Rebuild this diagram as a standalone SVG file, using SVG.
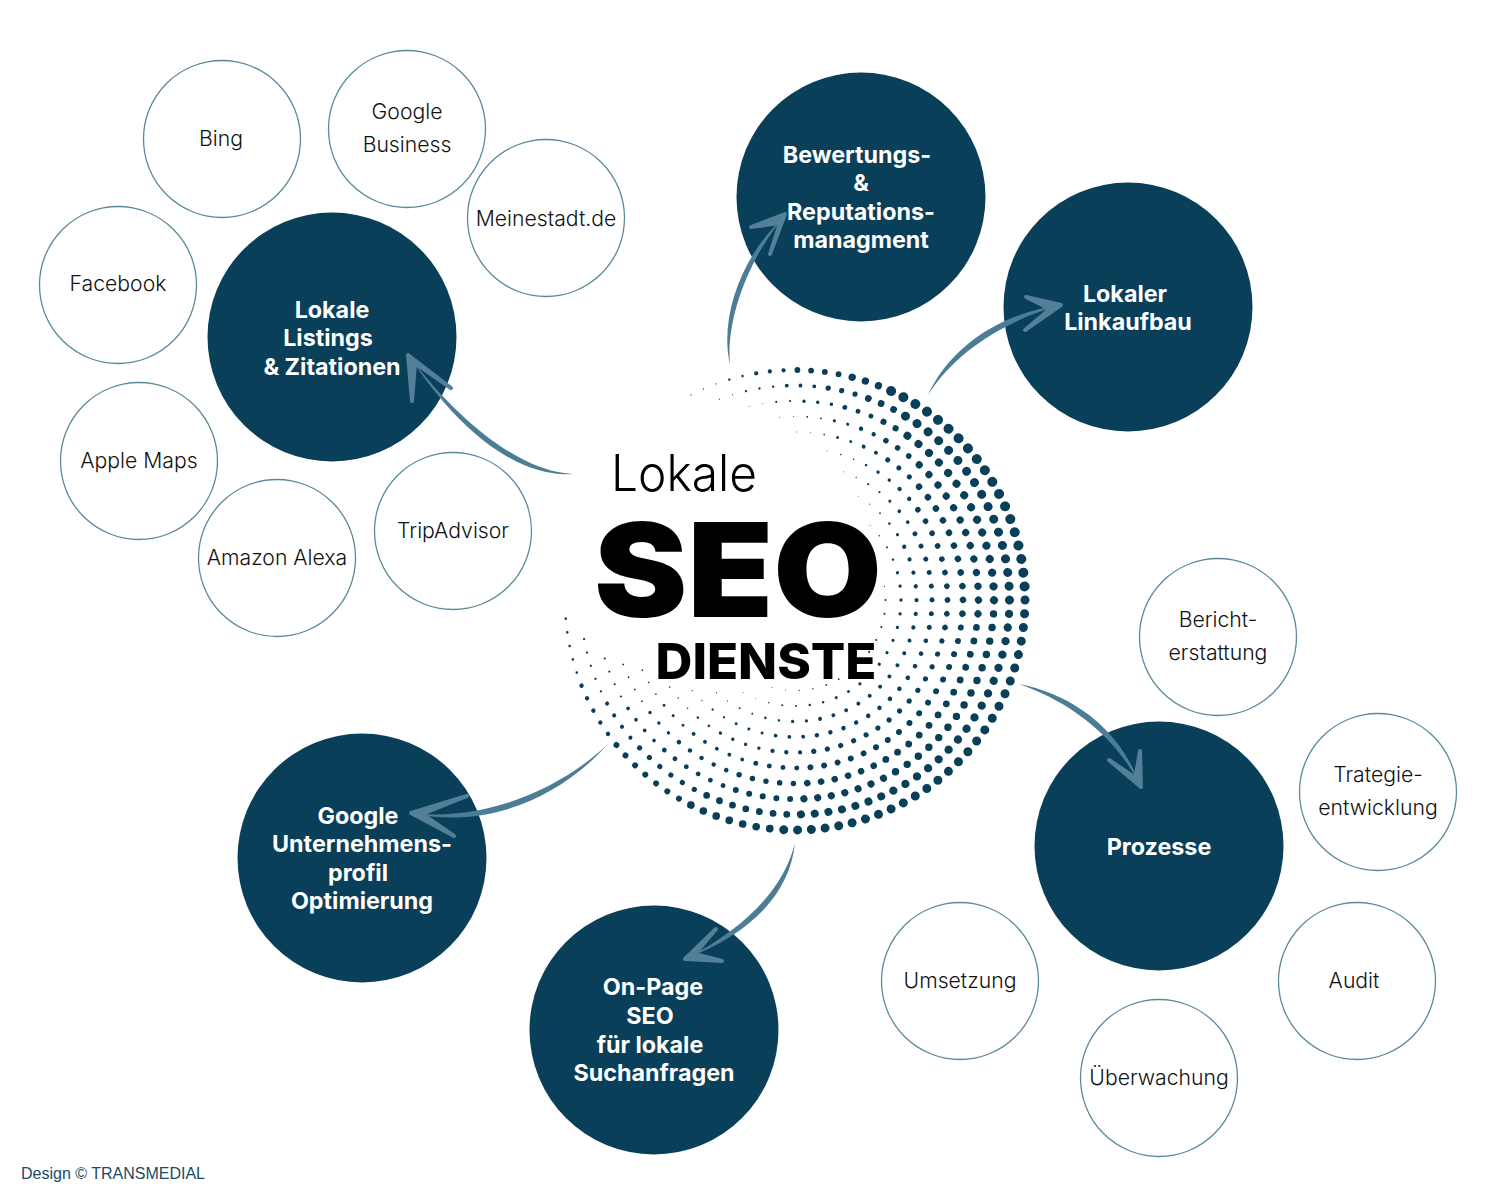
<svg xmlns="http://www.w3.org/2000/svg" width="1500" height="1200" viewBox="0 0 1500 1200">
<style>
text{text-anchor:middle}
.dark circle{fill:#0a3f5a}
.dark text{font:700 23.3px Inter,"Liberation Sans",sans-serif;fill:#fff}
.lite circle{fill:#fff;stroke:#5b8a9c;stroke-width:1.3}
.lite text{font:300 21.2px Inter,"Liberation Sans",sans-serif;fill:#111}
#dots circle{fill:none;stroke:#0a3f5a;stroke-linecap:round}
.n1{stroke-dasharray:0 2000}
.n2{stroke-dasharray:0 13.8 0 2000}
.n3{stroke-dasharray:0 13.8 0 13.8 0 2000}
.n4{stroke-dasharray:0 13.8 0 13.8 0 13.8 0 2000}
.n5{stroke-dasharray:0 13.8 0 13.8 0 13.8 0 13.8 0 2000}
.n6{stroke-dasharray:0 13.8 0 13.8 0 13.8 0 13.8 0 13.8 0 2000}
.n7{stroke-dasharray:0 13.8 0 13.8 0 13.8 0 13.8 0 13.8 0 13.8 0 2000}
.n8{stroke-dasharray:0 13.8 0 13.8 0 13.8 0 13.8 0 13.8 0 13.8 0 13.8 0 2000}
.n9{stroke-dasharray:0 13.8 0 13.8 0 13.8 0 13.8 0 13.8 0 13.8 0 13.8 0 13.8 0 2000}
.n10{stroke-dasharray:0 13.8 0 13.8 0 13.8 0 13.8 0 13.8 0 13.8 0 13.8 0 13.8 0 13.8 0 2000}
.n11{stroke-dasharray:0 13.8 0 13.8 0 13.8 0 13.8 0 13.8 0 13.8 0 13.8 0 13.8 0 13.8 0 13.8 0 2000}
.n12{stroke-dasharray:0 13.8 0 13.8 0 13.8 0 13.8 0 13.8 0 13.8 0 13.8 0 13.8 0 13.8 0 13.8 0 13.8 0 2000}
.n13{stroke-dasharray:0 13.8 0 13.8 0 13.8 0 13.8 0 13.8 0 13.8 0 13.8 0 13.8 0 13.8 0 13.8 0 13.8 0 13.8 0 2000}
.n15{stroke-dasharray:0 13.8 0 13.8 0 13.8 0 13.8 0 13.8 0 13.8 0 13.8 0 13.8 0 13.8 0 13.8 0 13.8 0 13.8 0 13.8 0 13.8 0 2000}
.n17{stroke-dasharray:0 13.8 0 13.8 0 13.8 0 13.8 0 13.8 0 13.8 0 13.8 0 13.8 0 13.8 0 13.8 0 13.8 0 13.8 0 13.8 0 13.8 0 13.8 0 13.8 0 2000}
.n19{stroke-dasharray:0 13.8 0 13.8 0 13.8 0 13.8 0 13.8 0 13.8 0 13.8 0 13.8 0 13.8 0 13.8 0 13.8 0 13.8 0 13.8 0 13.8 0 13.8 0 13.8 0 13.8 0 13.8 0 2000}
#connectors path.b{fill:#4b7d97;stroke:none}
#connectors path.h{fill:#537f99;stroke:#537f99;stroke-width:4;stroke-linejoin:round}
.title{fill:#000;font-family:Inter,"Liberation Sans",sans-serif}
</style>
<g id="dots" transform="translate(795 600)">
<circle r="230" class="n3" stroke-width="1.3" transform="rotate(-116.9)"/>
<circle r="230" class="n2" stroke-width="2.5" transform="rotate(-106.6)"/>
<circle r="230" class="n3" stroke-width="4.2" transform="rotate(-99.7)"/>
<circle r="230" class="n4" stroke-width="5.8" transform="rotate(-89.4)"/>
<circle r="230" class="n3" stroke-width="7.4" transform="rotate(-75.6)"/>
<circle r="230" class="n19" stroke-width="10" transform="rotate(-65.3)"/>
<circle r="230" class="n19" stroke-width="9"/>
<circle r="230" class="n9" stroke-width="9" transform="rotate(65.3)"/>
<circle r="230" class="n7" stroke-width="7.6" transform="rotate(96.3)"/>
<circle r="230" class="n7" stroke-width="6" transform="rotate(120.3)"/>
<circle r="230" class="n5" stroke-width="4.4" transform="rotate(144.4)"/>
<circle r="230" class="n5" stroke-width="2.6" transform="rotate(161.6)"/>
<circle r="214.5" class="n2" stroke-width="1.2" transform="rotate(-110.6)"/>
<circle r="214.5" class="n3" stroke-width="2.3" transform="rotate(-103.2)"/>
<circle r="214.5" class="n3" stroke-width="3.9" transform="rotate(-92.2)"/>
<circle r="214.5" class="n3" stroke-width="5.3" transform="rotate(-81.1)"/>
<circle r="214.5" class="n3" stroke-width="6.8" transform="rotate(-70)"/>
<circle r="214.5" class="n17" stroke-width="9" transform="rotate(-59)"/>
<circle r="214.5" class="n17" stroke-width="8.3" transform="rotate(3.7)"/>
<circle r="214.5" class="n7" stroke-width="8" transform="rotate(66.3)"/>
<circle r="214.5" class="n7" stroke-width="6.8" transform="rotate(92.2)"/>
<circle r="214.5" class="n6" stroke-width="5.2" transform="rotate(118)"/>
<circle r="214.5" class="n4" stroke-width="4.1" transform="rotate(140.1)"/>
<circle r="214.5" class="n5" stroke-width="2.3" transform="rotate(154.8)"/>
<circle r="199" class="n2" stroke-width="1" transform="rotate(-103.3)"/>
<circle r="199" class="n2" stroke-width="2.1" transform="rotate(-95.4)"/>
<circle r="199" class="n3" stroke-width="3.5" transform="rotate(-87.4)"/>
<circle r="199" class="n3" stroke-width="4.8" transform="rotate(-75.5)"/>
<circle r="199" class="n2" stroke-width="6.2" transform="rotate(-63.6)"/>
<circle r="199" class="n15" stroke-width="8" transform="rotate(-55.6)"/>
<circle r="199" class="n15" stroke-width="7.4" transform="rotate(4)"/>
<circle r="199" class="n7" stroke-width="7.2" transform="rotate(63.6)"/>
<circle r="199" class="n5" stroke-width="6" transform="rotate(91.4)"/>
<circle r="199" class="n6" stroke-width="4.7" transform="rotate(111.2)"/>
<circle r="199" class="n4" stroke-width="3.7" transform="rotate(135.1)"/>
<circle r="199" class="n4" stroke-width="2.1" transform="rotate(151)"/>
<circle r="183.5" class="n2" stroke-width="1" transform="rotate(-94.8)"/>
<circle r="183.5" class="n2" stroke-width="1.9" transform="rotate(-86.2)"/>
<circle r="183.5" class="n2" stroke-width="3.2" transform="rotate(-77.6)"/>
<circle r="183.5" class="n2" stroke-width="4.4" transform="rotate(-68.9)"/>
<circle r="183.5" class="n3" stroke-width="5.6" transform="rotate(-60.3)"/>
<circle r="183.5" class="n13" stroke-width="7.2" transform="rotate(-47.4)"/>
<circle r="183.5" class="n13" stroke-width="6.8" transform="rotate(8.6)"/>
<circle r="183.5" class="n6" stroke-width="6.6" transform="rotate(64.6)"/>
<circle r="183.5" class="n5" stroke-width="5.5" transform="rotate(90.5)"/>
<circle r="183.5" class="n5" stroke-width="4.4" transform="rotate(112)"/>
<circle r="183.5" class="n3" stroke-width="3.4" transform="rotate(133.6)"/>
<circle r="183.5" class="n4" stroke-width="1.9" transform="rotate(146.5)"/>
<circle r="168" class="n2" stroke-width="0.9" transform="rotate(-89.4)"/>
<circle r="168" class="n1" stroke-width="1.7" transform="rotate(-80)"/>
<circle r="168" class="n2" stroke-width="2.9" transform="rotate(-75.3)"/>
<circle r="168" class="n2" stroke-width="3.9" transform="rotate(-65.9)"/>
<circle r="168" class="n3" stroke-width="5" transform="rotate(-56.5)"/>
<circle r="168" class="n11" stroke-width="6.5" transform="rotate(-42.4)"/>
<circle r="168" class="n12" stroke-width="6" transform="rotate(9.4)"/>
<circle r="168" class="n5" stroke-width="5.9" transform="rotate(65.9)"/>
<circle r="168" class="n4" stroke-width="5" transform="rotate(89.4)"/>
<circle r="168" class="n5" stroke-width="3.9" transform="rotate(108.3)"/>
<circle r="168" class="n3" stroke-width="3" transform="rotate(131.8)"/>
<circle r="168" class="n3" stroke-width="1.7" transform="rotate(145.9)"/>
<circle r="152.5" class="n1" stroke-width="0.8" transform="rotate(-77.8)"/>
<circle r="152.5" class="n2" stroke-width="1.5" transform="rotate(-72.6)"/>
<circle r="152.5" class="n1" stroke-width="2.5" transform="rotate(-62.2)"/>
<circle r="152.5" class="n2" stroke-width="3.4" transform="rotate(-57)"/>
<circle r="152.5" class="n2" stroke-width="4.4" transform="rotate(-46.7)"/>
<circle r="152.5" class="n10" stroke-width="5.6" transform="rotate(-36.3)"/>
<circle r="152.5" class="n9" stroke-width="5.2" transform="rotate(15.6)"/>
<circle r="152.5" class="n5" stroke-width="5.2" transform="rotate(62.2)"/>
<circle r="152.5" class="n3" stroke-width="4.3" transform="rotate(88.1)"/>
<circle r="152.5" class="n4" stroke-width="3.4" transform="rotate(103.7)"/>
<circle r="152.5" class="n2" stroke-width="2.6" transform="rotate(124.4)"/>
<circle r="152.5" class="n3" stroke-width="1.5" transform="rotate(134.8)"/>
<circle r="137" class="n1" stroke-width="0.7" transform="rotate(-69.3)"/>
<circle r="137" class="n1" stroke-width="1.3" transform="rotate(-63.5)"/>
<circle r="137" class="n2" stroke-width="2.2" transform="rotate(-57.7)"/>
<circle r="137" class="n1" stroke-width="3" transform="rotate(-46.2)"/>
<circle r="137" class="n2" stroke-width="3.7" transform="rotate(-40.4)"/>
<circle r="137" class="n8" stroke-width="4.9" transform="rotate(-28.9)"/>
<circle r="137" class="n8" stroke-width="4.6" transform="rotate(17.3)"/>
<circle r="137" class="n4" stroke-width="4.5" transform="rotate(63.5)"/>
<circle r="137" class="n3" stroke-width="3.8" transform="rotate(86.6)"/>
<circle r="137" class="n3" stroke-width="3" transform="rotate(103.9)"/>
<circle r="137" class="n2" stroke-width="2.3" transform="rotate(121.2)"/>
<circle r="137" class="n2" stroke-width="1.3" transform="rotate(132.8)"/>
<circle r="121.5" class="n1" stroke-width="0.7" transform="rotate(-58.6)"/>
<circle r="121.5" class="n1" stroke-width="1.2" transform="rotate(-52.1)"/>
<circle r="121.5" class="n1" stroke-width="1.9" transform="rotate(-45.6)"/>
<circle r="121.5" class="n1" stroke-width="2.6" transform="rotate(-39)"/>
<circle r="121.5" class="n1" stroke-width="3.2" transform="rotate(-32.5)"/>
<circle r="121.5" class="n7" stroke-width="4.2" transform="rotate(-26)"/>
<circle r="121.5" class="n7" stroke-width="4" transform="rotate(19.5)"/>
<circle r="121.5" class="n3" stroke-width="3.9" transform="rotate(65.1)"/>
<circle r="121.5" class="n2" stroke-width="3.3" transform="rotate(84.6)"/>
<circle r="121.5" class="n2" stroke-width="2.6" transform="rotate(97.6)"/>
<circle r="121.5" class="n2" stroke-width="2" transform="rotate(110.6)"/>
<circle r="121.5" class="n2" stroke-width="1.2" transform="rotate(123.7)"/>
<circle r="106" class="n1" stroke-width="0.9" transform="rotate(-44.8)"/>
<circle r="106" class="n1" stroke-width="1.5" transform="rotate(-37.3)"/>
<circle r="106" class="n1" stroke-width="2" transform="rotate(-29.8)"/>
<circle r="106" class="n1" stroke-width="2.5" transform="rotate(-22.4)"/>
<circle r="106" class="n5" stroke-width="3.3" transform="rotate(-14.9)"/>
<circle r="106" class="n5" stroke-width="3.2" transform="rotate(22.4)"/>
<circle r="106" class="n2" stroke-width="3" transform="rotate(59.7)"/>
<circle r="106" class="n2" stroke-width="2.5" transform="rotate(74.6)"/>
<circle r="106" class="n2" stroke-width="2" transform="rotate(89.5)"/>
<circle r="106" class="n1" stroke-width="1.5" transform="rotate(104.4)"/>
<circle r="106" class="n2" stroke-width="0.9" transform="rotate(111.9)"/>
<circle r="90.5" class="n1" stroke-width="1.2" transform="rotate(-8.7)"/>
<circle r="90.5" class="n6" stroke-width="2.1"/>
<circle r="90.5" class="n3" stroke-width="1.8" transform="rotate(52.4)"/>
<circle r="90.5" class="n2" stroke-width="1.4" transform="rotate(78.6)"/>
<circle r="90.5" class="n2" stroke-width="0.9" transform="rotate(96.1)"/>
</g>
<g id="title">
<text class="title" x="684" y="491" font-size="50" font-weight="300" textLength="146" lengthAdjust="spacingAndGlyphs">Lokale</text>
<text class="title" x="738" y="617" font-size="130" font-weight="900" textLength="288" lengthAdjust="spacingAndGlyphs">SEO</text>
<text class="title" x="766" y="679" font-size="50" font-weight="800" textLength="221" lengthAdjust="spacingAndGlyphs">DIENSTE</text>
</g>
<g id="n-bing" class="lite"><circle cx="222" cy="139" r="78.5"/><text x="221" y="146">Bing</text></g>
<g id="n-google-business" class="lite"><circle cx="407" cy="129" r="78.5"/><text x="407" y="119">Google</text><text x="407" y="152">Business</text></g>
<g id="n-meinestadt" class="lite"><circle cx="546" cy="218" r="78.5"/><text x="546" y="226">Meinestadt.de</text></g>
<g id="n-facebook" class="lite"><circle cx="118" cy="285" r="78.5"/><text x="118" y="291">Facebook</text></g>
<g id="n-apple" class="lite"><circle cx="139" cy="461" r="78.5"/><text x="139" y="468">Apple Maps</text></g>
<g id="n-alexa" class="lite"><circle cx="277" cy="558" r="78.5"/><text x="277" y="565">Amazon Alexa</text></g>
<g id="n-tripadvisor" class="lite"><circle cx="453" cy="531" r="78.5"/><text x="453" y="538">TripAdvisor</text></g>
<g id="n-bericht" class="lite"><circle cx="1218" cy="637" r="78.5"/><text x="1218" y="627">Bericht-</text><text x="1218" y="660">erstattung</text></g>
<g id="n-strategie" class="lite"><circle cx="1378" cy="792" r="78.5"/><text x="1378" y="782">Trategie-</text><text x="1378" y="815">entwicklung</text></g>
<g id="n-audit" class="lite"><circle cx="1357" cy="981" r="78.5"/><text x="1354" y="988">Audit</text></g>
<g id="n-ueberwachung" class="lite"><circle cx="1159" cy="1078" r="78.5"/><text x="1159" y="1085">Überwachung</text></g>
<g id="n-umsetzung" class="lite"><circle cx="960" cy="981" r="78.5"/><text x="960" y="988">Umsetzung</text></g>
<g id="n-bewertung" class="dark"><circle cx="861" cy="197" r="124.5"/><text x="857" y="163">Bewertungs-</text><text x="861" y="191">&amp;</text><text x="861" y="220">Reputations-</text><text x="861" y="248">managment</text></g>
<g id="n-linkaufbau" class="dark"><circle cx="1128" cy="307" r="124.5"/><text x="1125" y="302">Lokaler</text><text x="1128" y="330">Linkaufbau</text></g>
<g id="n-listings" class="dark"><circle cx="332" cy="337" r="124.5"/><text x="332" y="318">Lokale</text><text x="328" y="346">Listings</text><text x="332" y="375">&amp; Zitationen</text></g>
<g id="n-google" class="dark"><circle cx="362" cy="858" r="124.5"/><text x="358" y="824">Google</text><text x="362" y="852">Unternehmens-</text><text x="358" y="881">profil</text><text x="362" y="909">Optimierung</text></g>
<g id="n-onpage" class="dark"><circle cx="654" cy="1030" r="124.5"/><text x="653" y="995">On-Page</text><text x="650" y="1024">SEO</text><text x="650" y="1053">für lokale</text><text x="654" y="1081">Suchanfragen</text></g>
<g id="n-prozesse" class="dark"><circle cx="1159" cy="846" r="124.5"/><text x="1159" y="855">Prozesse</text></g>
<g id="connectors">
<path class="b" d="M573,474C527,472 467,432 409,356C463,438 523,478 573,474Z"/>
<path class="h" d="M412,401L408,355L451,388L415,363Z"/>
<path class="b" d="M730,365C725.5,316 751.5,254 785,216C744.5,252 718.5,314 730,365Z"/>
<path class="h" d="M751,227L785,214L770,254L780,223Z"/>
<path class="b" d="M928,395C952.8,341.7 1007.8,311.7 1061,305C1012.2,318.3 957.2,348.3 928,395Z"/>
<path class="h" d="M1026,297L1061,305L1025,330L1050,309Z"/>
<path class="b" d="M1019,684C1070.6,694 1119.6,727 1141,787C1114.4,733 1065.4,700 1019,684Z"/>
<path class="h" d="M1109,760L1141,787L1140,751L1135.5,778Z"/>
<path class="b" d="M795,843C789.8,892.8 752.8,932.8 685,959C747.2,927.2 784.2,887.2 795,843Z"/>
<path class="h" d="M716,929L685,959L722,961L695,954Z"/>
<path class="b" d="M607,745C555.8,802 480.8,829 412,813C479.2,821 554.2,794 607,745Z"/>
<path class="h" d="M467,796L411,813L454,836L422,814Z"/>
</g>
<text x="21" y="1179" style="text-anchor:start;font:16px 'Liberation Sans',Arial,sans-serif;fill:#1a4a66">Design © TRANSMEDIAL</text>
</svg>
